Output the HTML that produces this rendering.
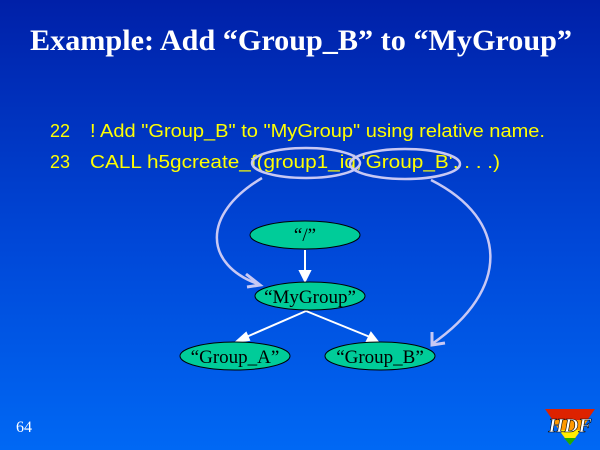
<!DOCTYPE html>
<html><head><style>
body{margin:0;}
#s{position:relative;width:600px;height:450px;overflow:hidden;background:linear-gradient(#0020a8,#0048d8 55%,#0068f4);font-family:"Liberation Serif",serif;}
</style></head><body><div id="s">
<svg width="600" height="450" style="position:absolute;left:0;top:0">
<text x="30" y="50" textLength="542" lengthAdjust="spacingAndGlyphs" font-family="Liberation Serif" font-weight="bold" font-size="30" fill="#fff">Example: Add “Group_B” to “MyGroup”</text>
<g font-family="Liberation Sans" font-size="18" fill="#ffff00">
<text x="50" y="137">22</text><text x="90" y="137" textLength="455" lengthAdjust="spacingAndGlyphs">! Add "Group_B" to "MyGroup" using relative name.</text>
<text x="50" y="168">23</text><text x="90" y="168" textLength="410" lengthAdjust="spacingAndGlyphs">CALL h5gcreate_f(group1_id,'Group_B', . . .)</text>
</g>
<g fill="none" stroke="#c8c8f4" stroke-width="2.5">
<ellipse cx="306" cy="163" rx="54" ry="15"/>
<ellipse cx="405" cy="164" rx="55" ry="15"/>
<path d="M262,178 C200,215 205,265 258,284"/>
<path d="M431,180 C510,220 510,290 432,344"/>
</g>
<g fill="none" stroke="#c8c8f4" stroke-width="3">
<path d="M246,274 L260,285 L247,287"/>
<path d="M432,332 L432,345 L445,343"/>
</g>
<g stroke="#fff" stroke-width="2" fill="#fff">
<line x1="305" y1="250" x2="305" y2="272"/><polygon points="300,271 310,271 305,281"/>
<line x1="306" y1="311" x2="244" y2="338"/><polygon points="236,342 246,333 249,340"/>
<line x1="306" y1="311" x2="370" y2="337"/><polygon points="378,342 367,341 371,333"/>
</g>
<g fill="#00cc99" stroke="#000" stroke-width="1">
<ellipse cx="305" cy="235" rx="55" ry="14"/>
<ellipse cx="310" cy="296" rx="55" ry="14"/>
<ellipse cx="235" cy="356" rx="55" ry="14"/>
<ellipse cx="380" cy="356" rx="55" ry="14"/>
</g>
<g font-family="Liberation Serif" font-size="19" fill="#000" text-anchor="middle">
<text x="305" y="241">“/”</text>
<text x="310" y="303">“MyGroup”</text>
<text x="235" y="363">“Group_A”</text>
<text x="380" y="363">“Group_B”</text>
</g>
<text x="16" y="432" font-family="Liberation Serif" font-size="16" fill="#fff">64</text>
<polygon points="545,409 595,409 570,445" fill="#dd2200"/>
<polygon points="552,420 588,420 570,445" fill="#ff9900"/>
<polygon points="559,430 581,430 570,445" fill="#ffee00"/>
<polygon points="564,438 576,438 570,445" fill="#22aa00"/>
<text x="570" y="432" text-anchor="middle" font-family="Liberation Serif" font-style="italic" font-weight="bold" font-size="20" fill="#fff" stroke="#000" stroke-width="0.6">HDF</text>
</svg>
</div></body></html>
